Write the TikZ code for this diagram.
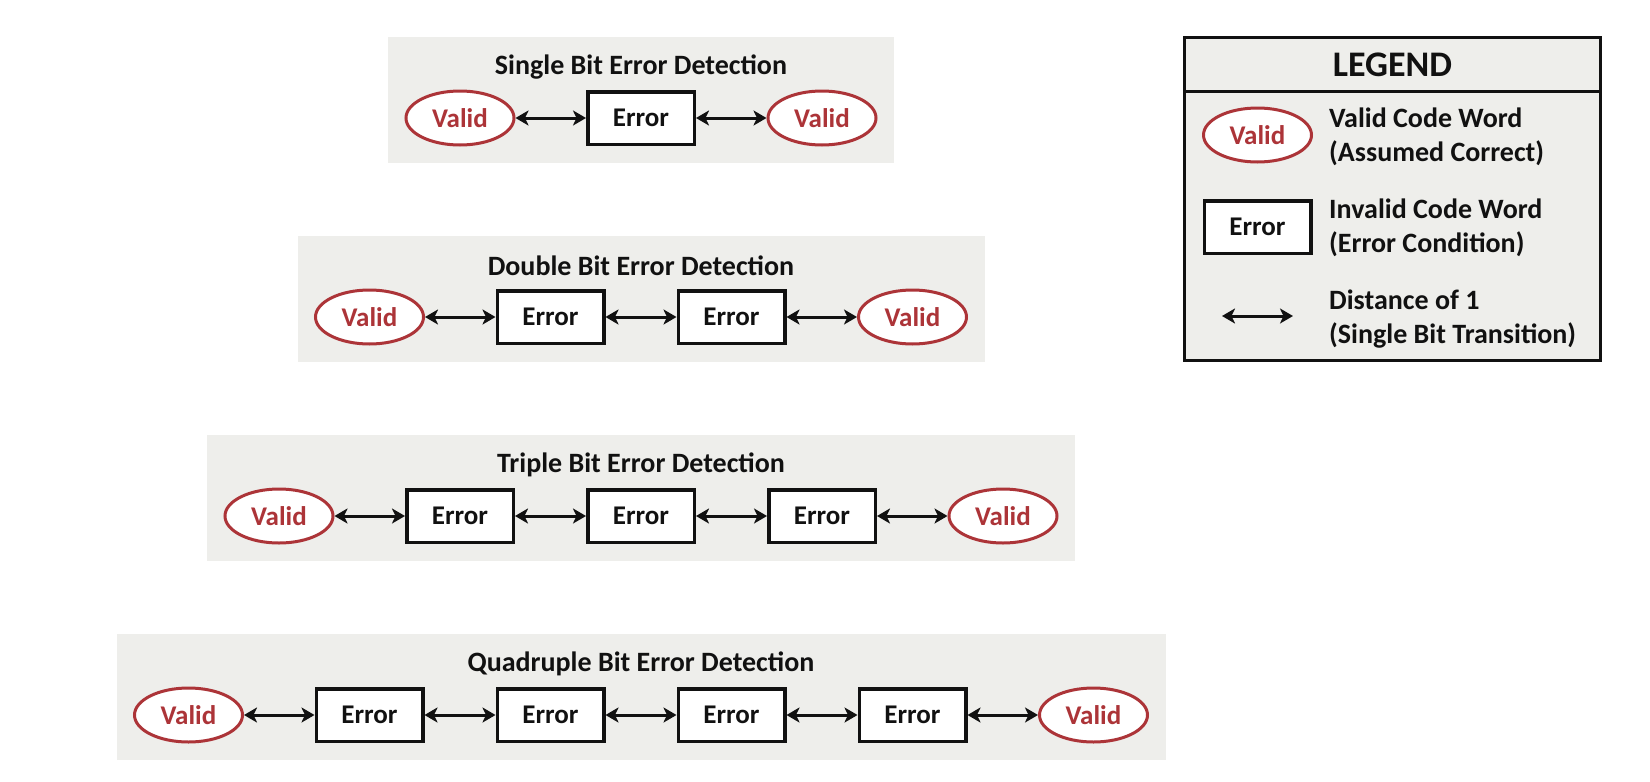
\documentclass[tikz,border=0pt]{standalone}
\usepackage{fontspec}
\setmainfont{Carlito}
\usetikzlibrary{shapes.geometric,arrows.meta}
\definecolor{validred}{RGB}{172,52,56}
\definecolor{panelgray}{RGB}{238,238,235}
\definecolor{inkblack}{RGB}{17,17,17}
\newcommand{\wordfont}{\fontsize{27}{33}\selectfont\bfseries}
\newcommand{\titlefont}{\fontsize{28}{34}\selectfont\bfseries}
\newcommand{\headfont}{\fontsize{36}{42}\selectfont\bfseries}
\begin{document}
\begin{tikzpicture}
[x=1pt,y=-1pt,
  validdecorate/.style={shape=ellipse,draw=validred,line width=3pt,fill=white,
    text=validred,minimum width=108pt,minimum height=54pt,inner sep=0pt,font=\wordfont},%
  errordecorate/.style={shape=rectangle,draw=inkblack,line width=3.5pt,fill=white,
    text=inkblack,minimum width=106.5pt,minimum height=52.5pt,inner sep=0pt,font=\wordfont},%
  linedecorate/.style={>={Stealth[length=13pt,width=15pt,inset=3.5pt]},<->,
    draw=inkblack,line width=3pt},%
  paneldecorate/.style={shape=rectangle,fill=panelgray,minimum height=126pt,inner sep=0pt},%
  titledecorate/.style={text=inkblack,font=\titlefont,inner sep=0pt},%
  legenddecorate/.style={shape=rectangle,draw=inkblack,line width=3pt,fill=panelgray,inner sep=0pt},%
  legendtext/.style={anchor=west,align=left,text=inkblack,font=\titlefont,inner sep=0pt}]
\path[use as bounding box] (0,0) rectangle (1650,782);
%% panels, one row of code words each
\foreach \rowname/\ytop/\nerr/\kind in {a/37/1/Single, b/236/2/Double,
  c/435/3/Triple, d/634/4/Quadruple}
{
  \pgfmathsetmacro{\panelwidth}{325+181*\nerr}
  \pgfmathtruncatemacro{\nlast}{\nerr+1}
  \node (panel\rowname) at (641,\ytop+63) [paneldecorate,minimum width=\panelwidth] {};
  \node (title\rowname) at (641,\ytop+30) [titledecorate] {\kind\ Bit Error Detection};
  \node (\rowname0) at ({641-90.5*\nlast},\ytop+81) [validdecorate] {Valid};
  \node (\rowname\nlast) at ({641+90.5*\nlast},\ytop+81) [validdecorate] {Valid};
  \foreach \i in {1,...,\nerr}
    \node (\rowname\i) at ({641+181*\i-90.5*\nlast},\ytop+81) [errordecorate] {Error};
  %% single bit transitions
  \foreach \i [evaluate=\i as \j using int(\i+1)] in {0,...,\nerr}
    \draw[linedecorate] (\rowname\i) -- (\rowname\j);
}
%% legend
\node (legend) at (1392.5,199) [legenddecorate,minimum width=416pt,minimum height=323pt] {};
\node (legendhead) at (legend.north) [legenddecorate,anchor=north,minimum width=416pt,
  minimum height=54pt,text=inkblack,font=\headfont] {LEGEND};
\node (legvalid) at (1257.5,135) [validdecorate] {Valid};
\node (legerror) at (1257.5,227) [errordecorate] {Error};
\coordinate (legarrowl) at (1222,316);
\coordinate (legarrowr) at (1293,316);
\draw[linedecorate] (legarrowl) -- (legarrowr);
\node (legvalidtext) at (1329,137) [legendtext] {Valid Code Word\\(Assumed Correct)};
\node (legerrortext) at (1329,228) [legendtext] {Invalid Code Word\\(Error Condition)};
\node (legarrowtext) at (1329,319) [legendtext] {Distance of 1\\(Single Bit Transition)};
\end{tikzpicture}
\end{document}
